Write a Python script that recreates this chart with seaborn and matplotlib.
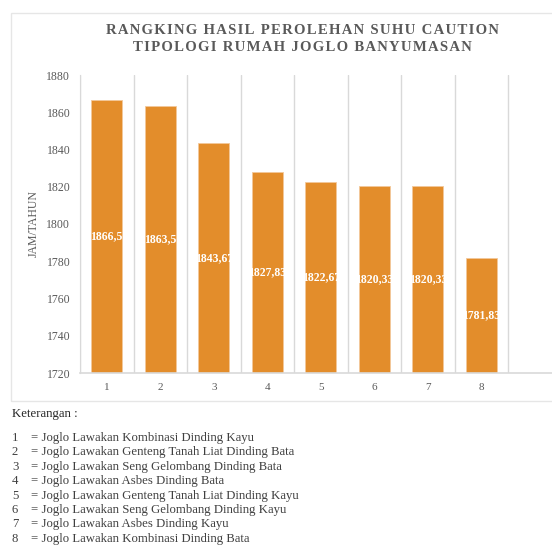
import numpy as np
import pandas as pd
import matplotlib
matplotlib.use("Agg")
import matplotlib.pyplot as plt
import matplotlib.patches as mpatches
import seaborn as sns

# =========================
# DATA
# =========================
categories = ["1", "2", "3", "4", "5", "6", "7", "8"]
values = [1866.5, 1863.5, 1843.67, 1827.83, 1822.67, 1820.33, 1820.33, 1781.83]
value_labels = ["1866,5", "1863,5", "1843,67", "1827,83", "1822,67", "1820,33", "1820,33", "1781,83"]
y_ticks = [1720, 1740, 1760, 1780, 1800, 1820, 1840, 1860, 1880]
keterangan = [
    "Joglo Lawakan Kombinasi Dinding Kayu",
    "Joglo Lawakan Genteng Tanah Liat Dinding Bata",
    "Joglo Lawakan Seng Gelombang Dinding Bata",
    "Joglo Lawakan Asbes Dinding Bata",
    "Joglo Lawakan Genteng Tanah Liat Dinding Kayu",
    "Joglo Lawakan Seng Gelombang Dinding Kayu",
    "Joglo Lawakan Asbes Dinding Kayu",
    "Joglo Lawakan Kombinasi Dinding Bata",
]

df = pd.DataFrame({"kategori": categories, "nilai": values})

# =========================
# STYLE
# =========================
sns.set_style("white")
plt.rcParams["font.family"] = ["Liberation Serif", "DejaVu Serif"]
text_grey = "#595959"
grid_grey = "#d9d9d9"
bar_color = "#e38d2b"

W, H = 552, 547
fig = plt.figure(figsize=(W / 100, H / 100), dpi=100)
ax = fig.add_axes([80 / W, 1 - 373 / H, 1 - 80 / W, 298 / H])

sns.barplot(data=df, x="kategori", y="nilai", color=bar_color, width=0.58,
            saturation=1, edgecolor="#f3c89a", linewidth=0.6, ax=ax)

ax.set_ylim(1720, 1880)
ax.set_yticks(y_ticks)
ax.set_xlim(-0.5, 8.32)

# vertical separators like Excel
ax.set_xticks(np.arange(-0.5, 8.0, 1.0), minor=True)
ax.grid(True, which="minor", axis="x", color=grid_grey, linewidth=1)
ax.grid(False, which="major")
ax.tick_params(axis="x", which="both", length=0, labelsize=8, colors=text_grey, pad=7)
ax.tick_params(axis="y", which="major", length=4, width=1, color=grid_grey,
               labelsize=8.5, labelcolor=text_grey, pad=3)

for side in ["top", "right"]:
    ax.spines[side].set_visible(False)
ax.spines["left"].set_color(grid_grey)
ax.spines["bottom"].set_color(grid_grey)
ax.spines["bottom"].set_linewidth(1.2)

ax.set_xlabel("")
ax.set_ylabel("JAM/TAHUN", color=text_grey, fontsize=8.5, labelpad=5)

# value labels, clipped to the bar like the original
for bar, lab in zip(ax.patches, value_labels):
    cx = bar.get_x() + bar.get_width() / 2
    top = bar.get_y() + bar.get_height()
    cy = (1720 + top) / 2
    t = ax.text(cx, cy, lab, ha="center", va="center", color="white",
                fontsize=8.5, fontweight="bold")
    t.set_clip_path(bar)

# title with wide letter spacing
def spaced(s):
    return "\u200a".join(list(s))

fig.text(302 / W, 1 - 31 / H, spaced("RANGKING HASIL PEROLEHAN SUHU CAUTION"),
         ha="center", va="center", fontsize=10.6, fontweight="bold", color=text_grey)
fig.text(302 / W, 1 - 48 / H, spaced("TIPOLOGI RUMAH JOGLO BANYUMASAN"),
         ha="center", va="center", fontsize=10.6, fontweight="bold", color=text_grey)

# chart frame
frame = mpatches.Rectangle((11 / W, 1 - 401 / H), 1.0, 388 / H,
                           transform=fig.transFigure, fill=False,
                           edgecolor="#e6e6e6", linewidth=1)
fig.patches.append(frame)

# keterangan
fig.text(12 / W, 1 - 414 / H, "Keterangan :", ha="left", va="center",
         fontsize=9.2, color="#262626")
for i, desc in enumerate(keterangan):
    y = 1 - (438 + i * 14.4) / H
    fig.text(12 / W, y, str(i + 1), ha="left", va="center", fontsize=9.2, color="#404040")
    fig.text(31 / W, y, "= " + desc, ha="left", va="center", fontsize=9.2, color="#404040")

fig.savefig("out.png", dpi=100)
